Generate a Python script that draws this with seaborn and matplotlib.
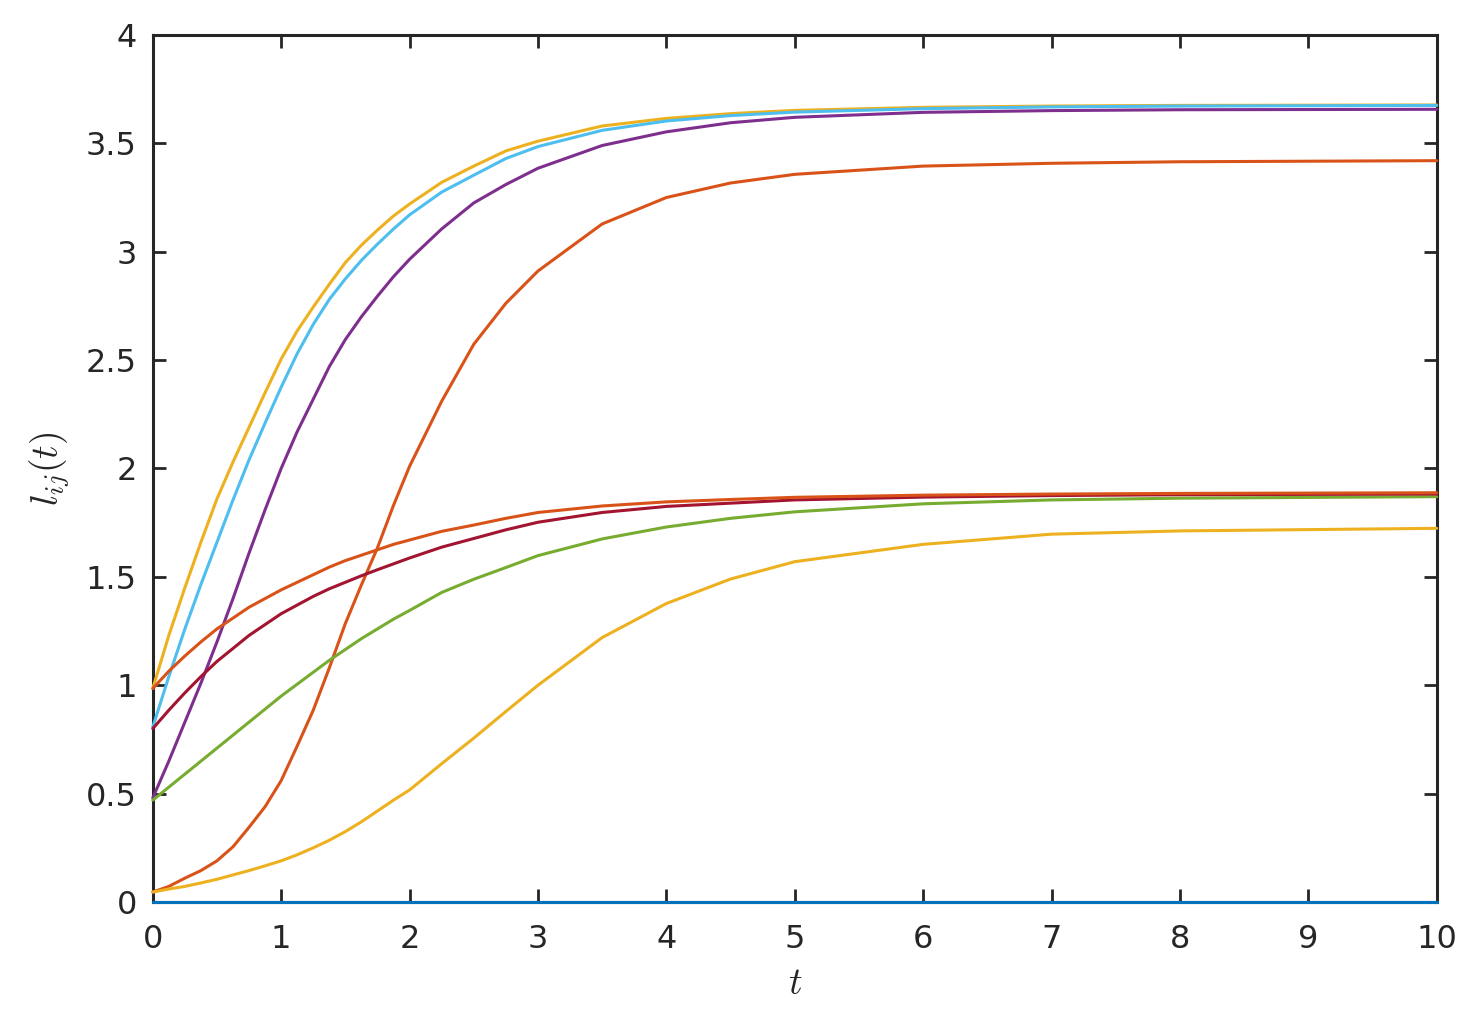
import matplotlib
matplotlib.use("Agg")
import matplotlib.pyplot as plt
from matplotlib.ticker import FormatStrFormatter
import pandas as pd
import seaborn as sns

# === data (time grid + one list per curve) ===
T = [0, 0.125, 0.25, 0.375, 0.5, 0.625, 0.75, 0.875, 1, 1.125, 1.25, 1.375, 1.5, 1.625,
     1.75, 1.875, 2, 2.25, 2.5, 2.75, 3, 3.5, 4, 4.5, 5, 6, 7, 8, 10]

BLUE_A = [0.0] * len(T)
ORANGE_A = [0.046, 0.072, 0.11, 0.145, 0.19, 0.255, 0.345, 0.44, 0.56, 0.72, 0.885, 1.08, 1.285,
            1.463, 1.634, 1.83, 2.01, 2.31, 2.573, 2.762, 2.911, 3.128, 3.25, 3.317, 3.357,
            3.395, 3.408, 3.415, 3.42]
YELLOW_A = [0.985, 1.23, 1.45, 1.66, 1.86, 2.03, 2.19, 2.35, 2.505, 2.635, 2.745, 2.85, 2.95,
            3.03, 3.10, 3.165, 3.22, 3.32, 3.395, 3.465, 3.51, 3.58, 3.615, 3.637, 3.652,
            3.666, 3.672, 3.675, 3.677]
PURPLE = [0.48, 0.65, 0.83, 1.01, 1.20, 1.40, 1.61, 1.81, 2.00, 2.17, 2.32, 2.47, 2.595,
          2.70, 2.795, 2.885, 2.965, 3.105, 3.225, 3.31, 3.385, 3.49, 3.553, 3.595, 3.62,
          3.643, 3.651, 3.655, 3.657]
GREEN = [0.47, 0.53, 0.59, 0.65, 0.71, 0.77, 0.83, 0.89, 0.95, 1.005, 1.06, 1.115, 1.165,
         1.215, 1.26, 1.305, 1.345, 1.428, 1.489, 1.543, 1.598, 1.675, 1.73, 1.77, 1.80,
         1.837, 1.855, 1.863, 1.87]
LIGHTBLUE = [0.807, 1.04, 1.26, 1.465, 1.66, 1.855, 2.04, 2.21, 2.375, 2.53, 2.665, 2.78, 2.875,
             2.96, 3.035, 3.105, 3.17, 3.275, 3.353, 3.43, 3.485, 3.56, 3.603, 3.628, 3.644,
             3.66, 3.668, 3.672, 3.675]
DARKRED = [0.80, 0.885, 0.965, 1.04, 1.11, 1.17, 1.23, 1.28, 1.33, 1.37, 1.41, 1.445, 1.475,
           1.505, 1.533, 1.56, 1.587, 1.637, 1.677, 1.717, 1.752, 1.797, 1.825, 1.84, 1.855,
           1.868, 1.875, 1.879, 1.882]
BLUE_B = [0.0] * len(T)
ORANGE_B = [0.985, 1.065, 1.135, 1.20, 1.26, 1.31, 1.36, 1.40, 1.44, 1.475, 1.51, 1.545, 1.575,
            1.60, 1.625, 1.65, 1.67, 1.71, 1.739, 1.77, 1.797, 1.827, 1.846, 1.857, 1.867,
            1.877, 1.882, 1.885, 1.888]
YELLOW_B = [0.046, 0.06, 0.072, 0.088, 0.105, 0.125, 0.145, 0.167, 0.19, 0.218, 0.25, 0.285, 0.325,
            0.37, 0.42, 0.47, 0.517, 0.638, 0.756, 0.879, 1.0, 1.22, 1.377, 1.49, 1.57,
            1.65, 1.697, 1.712, 1.724]

CURVES = [BLUE_A, ORANGE_A, YELLOW_A, PURPLE, GREEN, LIGHTBLUE, DARKRED, BLUE_B, ORANGE_B, YELLOW_B]
# matlab default colour order
COLORS = ["#0072BD", "#D95319", "#EDB120", "#7E2F8E", "#77AC30", "#4DBEEE", "#A2142F",
          "#0072BD", "#D95319", "#EDB120"]

X_TICKS = list(range(0, 11))
Y_TICKS = [0, 0.5, 1, 1.5, 2, 2.5, 3, 3.5, 4]


def draw():
    rows = {"t": [], "l": [], "curve": []}
    for k, vals in enumerate(CURVES):
        rows["t"] += T
        rows["l"] += vals
        rows["curve"] += [k] * len(T)
    df = pd.DataFrame.from_dict(rows)

    sns.set_style("white")
    plt.rcParams["font.family"] = ["DejaVu Sans"]
    plt.rcParams["mathtext.fontset"] = "cm"

    fig = plt.figure(figsize=(14.69, 10.22), dpi=100)
    ax = fig.add_axes([0.104, 0.1174, 0.874, 0.8484])
    sns.lineplot(data=df, x="t", y="l", hue="curve", palette=COLORS, estimator=None,
                 sort=False, legend=False, linewidth=2.2, ax=ax)
    for ln in ax.lines:
        ln.set_zorder(3)
        ln.set_clip_on(False)

    ax.set_xlim(0, 10)
    ax.set_ylim(0, 4)
    ax.set_xticks(X_TICKS)
    ax.set_yticks(Y_TICKS)
    ax.yaxis.set_major_formatter(FormatStrFormatter("%g"))
    ax.tick_params(direction="in", length=9.5, width=2, labelsize=23, colors="#262626",
                   top=True, right=True, bottom=True, left=True)
    ax.tick_params(axis="y", pad=11.5)
    ax.tick_params(axis="x", pad=16)
    for s in ax.spines.values():
        s.set_linewidth(2.2)
        s.set_color("#262626")
        s.set_visible(True)

    ax.set_xlabel("$t$", fontsize=27, labelpad=8, color="#262626")
    ax.set_ylabel("$l_{ij}(t)$", fontsize=27, labelpad=10, color="#262626")

    fig.savefig("out.png", dpi=100, facecolor="white")


if __name__ == "__main__":
    draw()
